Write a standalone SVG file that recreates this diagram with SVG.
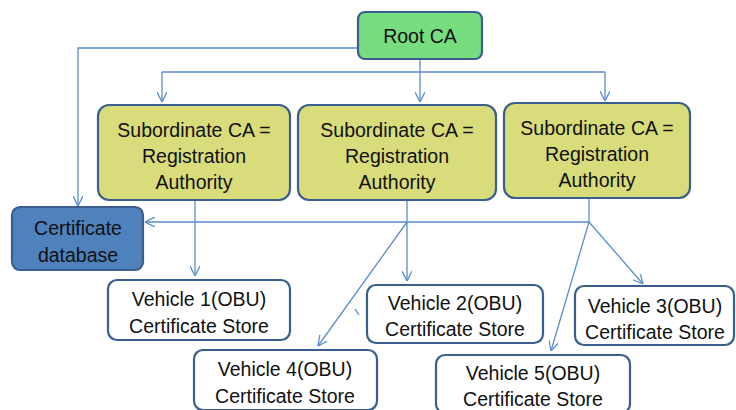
<svg xmlns="http://www.w3.org/2000/svg" width="736" height="410" viewBox="0 0 736 410">
<defs>
<style>
.box{stroke:#3A5F8E;stroke-width:2.2}
.root{fill:#77DD7F}
.sub{fill:#D8DC7A}
.db{fill:#4F81BD}
.veh{fill:#FFFFFF}
.t{font-family:"Liberation Sans",Arial,sans-serif;font-size:19.5px;fill:#111;text-anchor:middle}
.c{fill:none;stroke:#5B8DCB;stroke-width:1.3}
</style>
<marker id="ah" viewBox="0 0 10 10" refX="10" refY="5" markerWidth="10" markerHeight="10" markerUnits="userSpaceOnUse" orient="auto">
<polyline points="0,0 10,5 0,10" fill="none" stroke="#5B8DCB" stroke-width="1.3"/>
</marker>
</defs>
<rect width="736" height="410" fill="#fff"/>
<g id="connectors">
<polyline class="c" points="358,48 78,48 78,206" marker-end="url(#ah)"/>
<line class="c" x1="420" y1="59" x2="420" y2="102" marker-end="url(#ah)"/>
<polyline class="c" points="162,72 605,72"/>
<line class="c" x1="162" y1="72" x2="162" y2="102" marker-end="url(#ah)"/>
<line class="c" x1="605" y1="72" x2="605" y2="101" marker-end="url(#ah)"/>
<polyline class="c" points="589,198 589,222 145,222" marker-end="url(#ah)"/>
<line class="c" x1="195" y1="200" x2="195" y2="276" marker-end="url(#ah)"/>
<line class="c" x1="407" y1="200" x2="407" y2="281" marker-end="url(#ah)"/>
<line class="c" x1="407" y1="222" x2="318" y2="346" marker-end="url(#ah)"/>
<line class="c" x1="589" y1="222" x2="551" y2="351" marker-end="url(#ah)"/>
<line class="c" x1="589" y1="222" x2="643" y2="284" marker-end="url(#ah)"/>
<line class="c" x1="355" y1="309" x2="359" y2="315"/>
</g>
<g id="root">
<rect class="box root" x="358" y="12" width="124" height="47" rx="7"/>
<text class="t" x="420" y="43" font-size="20">Root CA</text>
</g>
<g id="sub1">
<rect class="box sub" x="98" y="105" width="192" height="95" rx="11"/>
<text class="t" x="194" y="137">Subordinate CA =</text>
<text class="t" x="194" y="163">Registration</text>
<text class="t" x="194" y="189">Authority</text>
</g>
<g id="sub2">
<rect class="box sub" x="298" y="105" width="198" height="95" rx="11"/>
<text class="t" x="397" y="137">Subordinate CA =</text>
<text class="t" x="397" y="163">Registration</text>
<text class="t" x="397" y="189">Authority</text>
</g>
<g id="sub3">
<rect class="box sub" x="504" y="103" width="186" height="95" rx="11"/>
<text class="t" x="597" y="135">Subordinate CA =</text>
<text class="t" x="597" y="161">Registration</text>
<text class="t" x="597" y="187">Authority</text>
</g>
<g id="certdb">
<rect class="box db" x="12" y="207" width="131" height="63" rx="8"/>
<text class="t" x="78" y="235">Certificate</text>
<text class="t" x="78" y="262">database</text>
</g>
<g id="v1">
<rect class="box veh" x="108" y="280" width="182" height="60" rx="9"/>
<text class="t" x="199" y="306">Vehicle 1(OBU)</text>
<text class="t" x="199" y="333">Certificate Store</text>
</g>
<g id="v2">
<rect class="box veh" x="367" y="285" width="176" height="58" rx="9"/>
<text class="t" x="455" y="310">Vehicle 2(OBU)</text>
<text class="t" x="455" y="336">Certificate Store</text>
</g>
<g id="v3">
<rect class="box veh" x="575" y="286" width="159" height="59" rx="9"/>
<text class="t" x="655" y="313">Vehicle 3(OBU)</text>
<text class="t" x="655" y="339">Certificate Store</text>
</g>
<g id="v4">
<rect class="box veh" x="194" y="350" width="183" height="60" rx="9"/>
<text class="t" x="285" y="376">Vehicle 4(OBU)</text>
<text class="t" x="285" y="403">Certificate Store</text>
</g>
<g id="v5">
<rect class="box veh" x="436" y="355" width="194" height="58" rx="9"/>
<text class="t" x="533" y="380">Vehicle 5(OBU)</text>
<text class="t" x="533" y="406">Certificate Store</text>
</g>
</svg>
